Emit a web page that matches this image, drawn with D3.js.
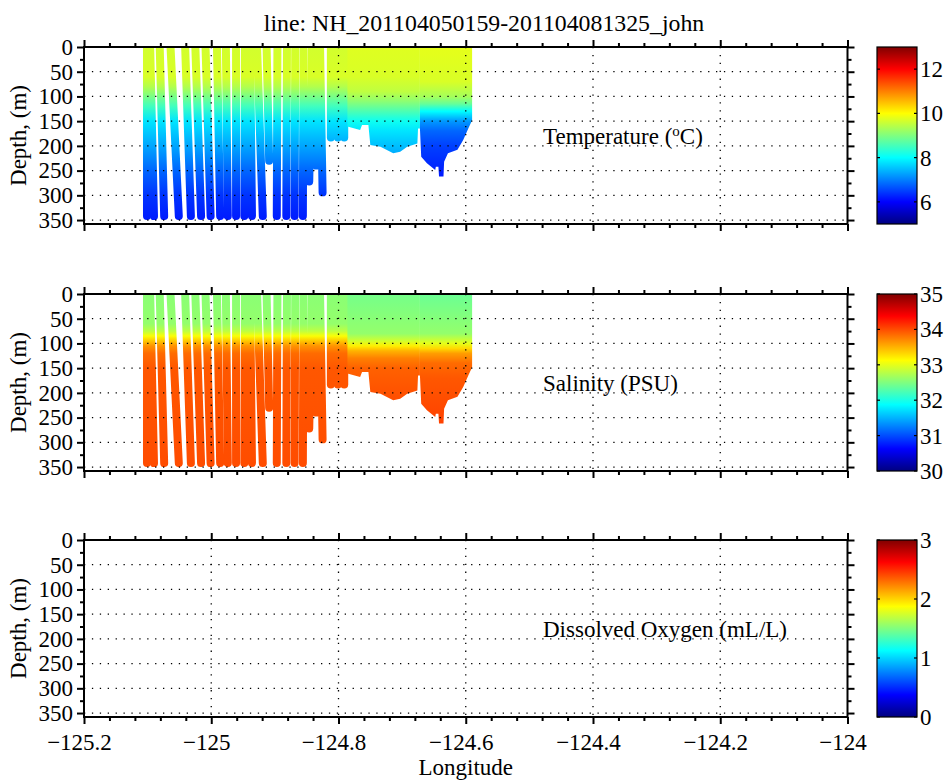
<!DOCTYPE html>
<html>
<head>
<meta charset="utf-8">
<script src="https://cdn.jsdelivr.net/npm/d3@7"></script>
<style>
body { margin: 0; background: #fff; }
</style>
</head>
<body>
<div id="chart"></div>
<script>
let title = "line: NH_201104050159-201104081325_john"
let lonTicks = [-125.2, -125, -124.8, -124.6, -124.4, -124.2, -124]
let depthTicks = [0, 50, 100, 150, 200, 250, 300, 350]
let tempTicks = [6, 8, 10, 12]
let salTicks = [30, 31, 32, 33, 34, 35]
let oxyTicks = [0, 1, 2, 3]

// glider dives offshore: [lon at surface, lon at deepest point, max depth (m)]
let dives = [
  [-125.101, -125.101, 350],
  [-125.096, -125.090, 350],
  [-125.081, -125.074, 350],
  [-125.064, -125.051, 350],
  [-125.041, -125.032, 350],
  [-125.025, -125.016, 350],
  [-125.009, -125.001, 350],
  [-124.991, -124.986, 350],
  [-124.977, -124.974, 350],
  [-124.961, -124.961, 350],
  [-124.947, -124.948, 350],
  [-124.939, -124.936, 350],
  [-124.928, -124.919, 350],
  [-124.913, -124.909, 238],
  [-124.896, -124.897, 350],
  [-124.881, -124.882, 350],
  [-124.868, -124.869, 350],
  [-124.855, -124.856, 350],
  [-124.842, -124.846, 280],
  [-124.838, -124.835, 248],
  [-124.829, -124.825, 302],
  [-124.812, -124.812, 191],
  [-124.801, -124.801, 191],
  [-124.791, -124.791, 191]
]

// dense shelf yo's: bottom of sampled water column [lon, depth]
let shelfWest = [
  [-124.786, 161], [-124.766, 168], [-124.763, 158], [-124.753, 158],
  [-124.750, 198], [-124.734, 202], [-124.714, 215], [-124.703, 212],
  [-124.692, 202], [-124.676, 195], [-124.675, 165], [-124.672, 165]
]
let shelfEast = [
  [-124.672, 165], [-124.670, 222], [-124.661, 235], [-124.648, 249],
  [-124.647, 242], [-124.643, 242], [-124.642, 262], [-124.635, 262],
  [-124.634, 232], [-124.628, 215], [-124.613, 208], [-124.604, 188],
  [-124.596, 165], [-124.590, 148]
]

// profiles [depth, value]
let tempOff = [[0, 9.65], [60, 9.7], [80, 9.4], [100, 8.95], [120, 8.5], [150, 7.8], [180, 7.5], [200, 7.3], [250, 6.8], [300, 6.4], [350, 6.2]]
let tempWest = [[0, 9.75], [60, 9.7], [90, 9.5], [110, 9.1], [130, 8.6], [150, 8.1], [170, 7.8], [200, 7.5], [220, 7.3]]
let tempEast = [[0, 9.8], [70, 9.7], [100, 9.3], [115, 8.8], [130, 8.0], [150, 7.2], [170, 6.8], [200, 6.5], [260, 6.2]]
let salOff = [[0, 32.55], [60, 32.6], [75, 32.8], [85, 33.1], [95, 33.4], [105, 33.65], [120, 33.85], [150, 33.95], [350, 34.0]]
let salWest = [[0, 32.45], [80, 32.6], [95, 32.9], [105, 33.2], [115, 33.5], [130, 33.75], [150, 33.9], [220, 34.0]]
let salEast = [[0, 32.4], [80, 32.6], [100, 33.0], [110, 33.3], [120, 33.6], [140, 33.85], [170, 33.95], [260, 34.05]]

let panels = [
  { label: ["Temperature (", "o", "C)"], range: [5, 13], ticks: tempTicks, off: tempOff, west: tempWest, east: tempEast },
  { label: ["Salinity (PSU)"], range: [30, 35], ticks: salTicks, off: salOff, west: salWest, east: salEast },
  { label: ["Dissolved Oxygen (mL/L)"], range: [0, 3], ticks: oxyTicks }
]

let W = 950, H = 783
let left = 84, right = 847.5, panelH = 177
let panelTops = [47, 294, 540]
let cbX = 877, cbW = 40
let maxDepth = 358
let diveW = 8
let serif = '"Liberation Serif", "Times New Roman", serif'

let x = d3.scaleLinear().domain([-125.2, -124]).range([left, right])
let y = d3.scaleLinear().domain([0, maxDepth]).range([0, panelH])

function jet(t) {
  t = Math.max(0, Math.min(1, t))
  let c = v => Math.round(255 * Math.max(0, Math.min(1, 1.5 - Math.abs(4 * t - v))))
  return d3.rgb(c(3), c(2), c(1)) + ""
}

let minorDepth = d3.range(25, maxDepth, 50)
let minorLon = d3.range(0, 31).filter(k => k % 5 != 0).map(k => -125.2 + k * 0.04)
let fmt = d3.format("~g")

let svg = d3.select("#chart").append("svg").attr("width", W).attr("height", H)

svg.append("text")
  .attr("x", 484).attr("y", 31)
  .attr("text-anchor", "middle")
  .style("font-size", "23.8px")
  .text(title)

panels.forEach((p, i) => {
  let g = svg.append("g").attr("transform", `translate(0,${panelTops[i]})`)
  let defs = g.append("defs")
  defs.append("clipPath").attr("id", "clip" + i)
    .append("rect").attr("x", left).attr("y", 0).attr("width", right - left).attr("height", panelH)

  let cval = d3.scaleLinear().domain(p.range).range([0, 1])
  function grad(id, prof) {
    let lg = defs.append("linearGradient").attr("id", id)
      .attr("gradientUnits", "userSpaceOnUse")
      .attr("x1", 0).attr("x2", 0).attr("y1", y(0)).attr("y2", y(maxDepth))
    lg.selectAll("stop").data(prof).join("stop")
      .attr("offset", d => d[0] / maxDepth)
      .attr("stop-color", d => jet(cval(d[1])))
    return `url(#${id})`
  }

  let data = g.append("g").attr("clip-path", `url(#clip${i})`)
  if (p.off) {
    let offFill = grad("off" + i, p.off)
    data.selectAll("line.dive").data(dives).join("line")
      .attr("class", "dive")
      .attr("x1", d => x(d[0])).attr("y1", y(0))
      .attr("x2", d => x(d[1])).attr("y2", d => y(d[2]) - diveW / 2)
      .attr("stroke", offFill)
      .attr("stroke-width", diveW)
      .attr("stroke-linecap", "round")

    let area = d3.area().x(d => x(d[0])).y0(y(0)).y1(d => y(d[1]))
    data.append("path").datum(shelfWest).attr("d", area).attr("fill", grad("west" + i, p.west))
    data.append("path").datum(shelfEast).attr("d", area).attr("fill", grad("east" + i, p.east))
  }

  // dotted grid on top of the data
  let grid = g.append("g")
    .attr("stroke", "#000").attr("stroke-width", 1.3).attr("stroke-dasharray", "1.3,6.6")
  grid.selectAll("line.h").data(depthTicks.slice(1)).join("line")
    .attr("x1", left).attr("x2", right).attr("y1", d => y(d)).attr("y2", d => y(d))
  grid.selectAll("line.v").data(lonTicks.slice(1, -1)).join("line")
    .attr("x1", d => x(d)).attr("x2", d => x(d)).attr("y1", 0).attr("y2", panelH)

  function addAxis(axis, tx, ty) {
    let a = g.append("g").attr("transform", `translate(${tx},${ty})`).call(axis)
    a.select(".domain").remove()
    a.selectAll("line").attr("stroke-width", 2)
    return a
  }
  addAxis(d3.axisLeft(y).tickValues(depthTicks).tickSize(7).tickPadding(4), left, 0)
  addAxis(d3.axisLeft(y).tickValues(minorDepth).tickSize(4).tickFormat(""), left, 0)
  addAxis(d3.axisRight(y).tickValues(depthTicks).tickSize(7).tickFormat(""), right, 0)
  addAxis(d3.axisRight(y).tickValues(minorDepth).tickSize(4).tickFormat(""), right, 0)
  addAxis(d3.axisTop(x).tickValues(lonTicks).tickSize(7).tickFormat(""), 0, 0)
  addAxis(d3.axisTop(x).tickValues(minorLon).tickSize(4).tickFormat(""), 0, 0)
  addAxis(d3.axisBottom(x).tickValues(lonTicks).tickSize(7).tickPadding(10)
    .tickFormat(i == 2 ? fmt : ""), 0, panelH)
    .selectAll("text").attr("dx", -5)
  addAxis(d3.axisBottom(x).tickValues(minorLon).tickSize(4).tickFormat(""), 0, panelH)

  g.append("rect")
    .attr("x", left).attr("y", 0).attr("width", right - left).attr("height", panelH)
    .attr("fill", "none").attr("stroke", "#000").attr("stroke-width", 2)

  g.append("text")
    .attr("transform", `translate(26,${panelH / 2}) rotate(-90)`)
    .attr("text-anchor", "middle")
    .text("Depth, (m)")

  // variable label inside the section
  let lab = g.append("text").attr("x", 543).attr("y", y(196))
  lab.append("tspan").text(p.label[0])
  if (p.label.length > 1) {
    lab.append("tspan").attr("dy", -8).style("font-size", "15px").text(p.label[1])
    lab.append("tspan").attr("dy", 8).text(p.label[2])
  }

  // colorbar
  let cbId = "cb" + i
  let cg = defs.append("linearGradient").attr("id", cbId)
    .attr("x1", 0).attr("x2", 0).attr("y1", 0).attr("y2", 1)
  cg.selectAll("stop").data([1, 7 / 8, 5 / 8, 3 / 8, 1 / 8, 0]).join("stop")
    .attr("offset", d => 1 - d)
    .attr("stop-color", d => jet(d))
  g.append("rect")
    .attr("x", cbX).attr("y", 0).attr("width", cbW).attr("height", panelH)
    .attr("fill", `url(#${cbId})`).attr("stroke", "#000").attr("stroke-width", 1.2)

  let cy = d3.scaleLinear().domain(p.range).range([panelH, 0])
  let ct = g.append("g")
  ct.selectAll("line.l").data(p.ticks).join("line")
    .attr("x1", cbX).attr("x2", cbX + 3).attr("y1", d => cy(d)).attr("y2", d => cy(d))
    .attr("stroke", "#000").attr("stroke-width", 1.2)
  ct.selectAll("line.r").data(p.ticks).join("line")
    .attr("x1", cbX + cbW - 3).attr("x2", cbX + cbW).attr("y1", d => cy(d)).attr("y2", d => cy(d))
    .attr("stroke", "#000").attr("stroke-width", 1.2)
  ct.selectAll("text").data(p.ticks).join("text")
    .attr("x", cbX + cbW + 3).attr("y", d => cy(d)).attr("dy", "0.35em")
    .text(d => d)
})

svg.append("text")
  .attr("x", (left + right) / 2).attr("y", 775)
  .attr("text-anchor", "middle")
  .text("Longitude")

// same serif face everywhere, including the axis tick labels
svg.selectAll("text")
  .style("font-family", serif)
  .attr("fill", "#000")
svg.selectAll("text").filter(function () { return !this.style.fontSize }).style("font-size", "23px")
</script>
</body>
</html>
